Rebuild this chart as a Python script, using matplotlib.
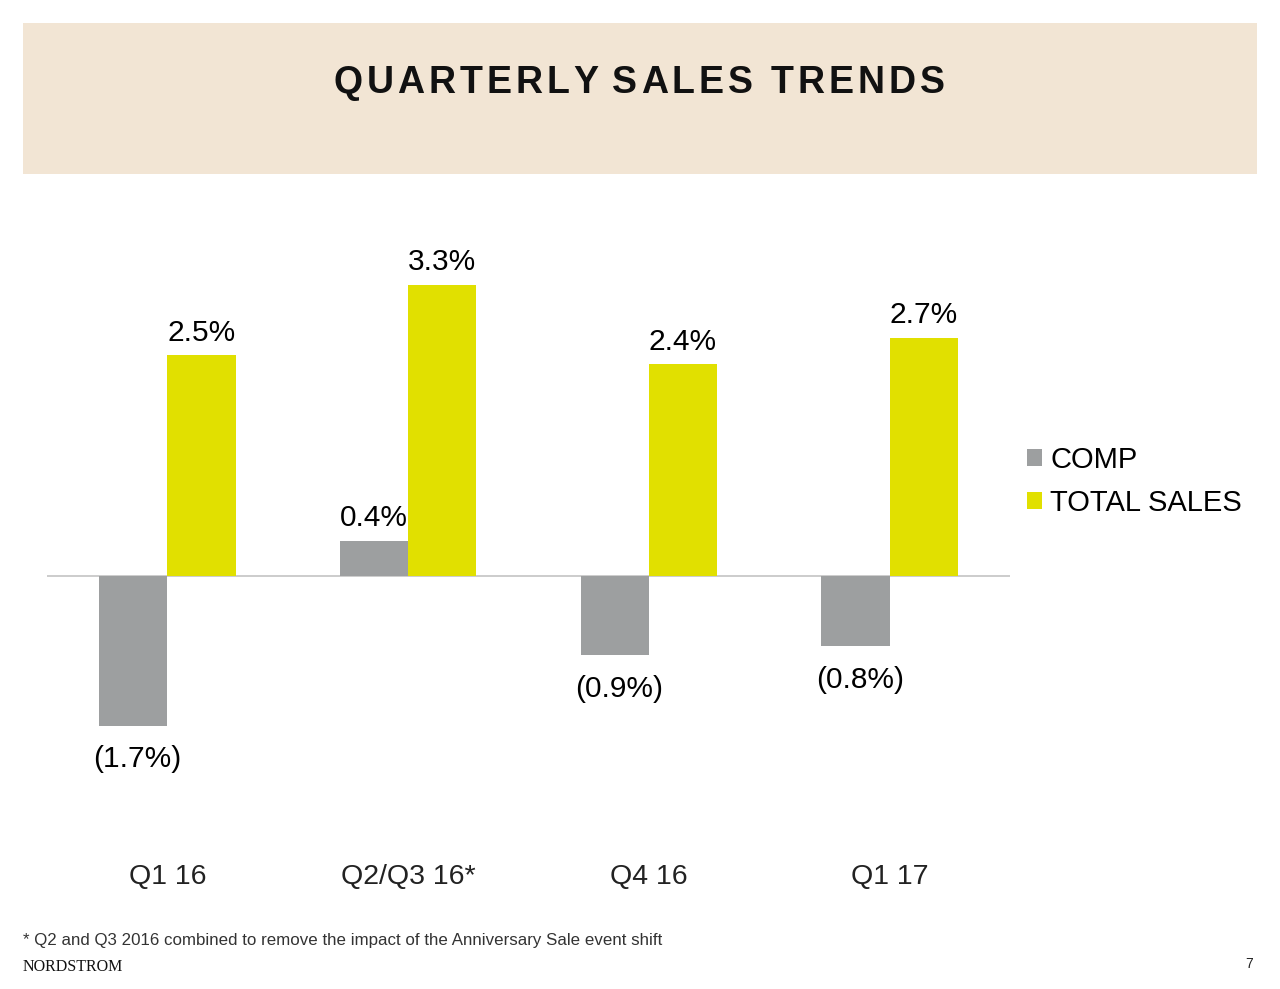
import matplotlib.pyplot as plt
import numpy as np
from matplotlib.patches import Rectangle

plt.rcParams['font.family'] = ['Liberation Sans', 'DejaVu Sans']

# dados do grafico
trimestres = ['Q1 16', 'Q2/Q3 16*', 'Q4 16', 'Q1 17']
comp = [-1.7, 0.4, -0.9, -0.8]
totalSales = [2.5, 3.3, 2.4, 2.7]
series = ['COMP', 'TOTAL SALES']
titulo = 'QUARTERLY SALES TRENDS'

corComp = '#9d9fa0'
corTotal = '#e1e000'


def rotulo(v):
    return f'({abs(v):.1f}%)' if v < 0 else f'{v:.1f}%'


fig = plt.figure(figsize=(12.8, 9.89), dpi=100)
W, H = 1280, 989

# faixa do titulo
fig.patches.append(Rectangle((23 / W, 1 - 174 / H), (1257 - 23) / W, (174 - 23) / H,
                             transform=fig.transFigure, facecolor='#f2e5d4',
                             edgecolor='none', zorder=0))

# titulo com espacamento entre letras
renderer = fig.canvas.get_renderer()
estilo = dict(fontsize=27, fontweight='bold', color='#111111', va='center', ha='left')


def largura(s):
    t = fig.text(0, 0, s, **estilo)
    w = t.get_window_extent(renderer).width
    t.remove()
    return w


largTotal = 611
largX = largura('X')
largNatural = largura(titulo)
extra = (largTotal - largNatural) / (len(titulo) - 1)
x0 = 639 - largTotal / 2
for i, c in enumerate(titulo):
    pre = largura(titulo[:i] + 'X') - largX if i > 0 else 0
    fig.text((x0 + pre + i * extra) / W, 1 - 83 / H, c, **estilo)

# eixo do grafico
ax = fig.add_axes([47 / W, 1 - 800 / H, (1010 - 47) / W, (800 - 230) / H])
x = np.arange(len(trimestres))
larg = 0.283
ax.bar(x - larg / 2, comp, larg, color=corComp, label=series[0])
ax.bar(x + larg / 2, totalSales, larg, color=corTotal, label=series[1])
ax.axhline(0, color='#c4c4c4', lw=1.2, zorder=0)
ax.set_xlim(-0.5, 3.5)
ax.set_ylim(-2.54, 3.92)
ax.axis('off')

for i in range(len(trimestres)):
    for v, dx in ((comp[i], -larg / 2), (totalSales[i], larg / 2)):
        if v >= 0:
            ax.annotate(rotulo(v), (x[i] + dx, v), xytext=(0, 6), textcoords='offset points',
                        ha='center', va='bottom', fontsize=21.5)
        else:
            ax.annotate(rotulo(v), (x[i] + dx, v), xytext=(3, -14), textcoords='offset points',
                        ha='center', va='top', fontsize=21.5)
    ax.text(x[i], -2.54 - 0.87, trimestres[i], ha='center', va='center', fontsize=20.5,
            color='#222222')

leg = ax.legend(loc='upper left', bbox_to_anchor=(1027 / W, 1 - 446 / H), bbox_transform=fig.transFigure,
                frameon=False, fontsize=21, handlelength=0.5, handleheight=0.5,
                handletextpad=0.3, labelspacing=0.5, borderaxespad=0, borderpad=0)

# rodape
fig.text(23 / W, 1 - 940 / H, '* Q2 and Q3 2016 combined to remove the impact of the Anniversary Sale event shift',
         ha='left', va='center', fontsize=12.2, color='#333333')
fig.text(23 / W, 1 - 967 / H, 'NORDSTROM', ha='left', va='center', fontsize=11.5,
         family='Liberation Serif', color='#111111')
fig.text(1253 / W, 1 - 964 / H, '7', ha='right', va='center', fontsize=10, color='#222222')

plt.savefig('out.png', dpi=100)
